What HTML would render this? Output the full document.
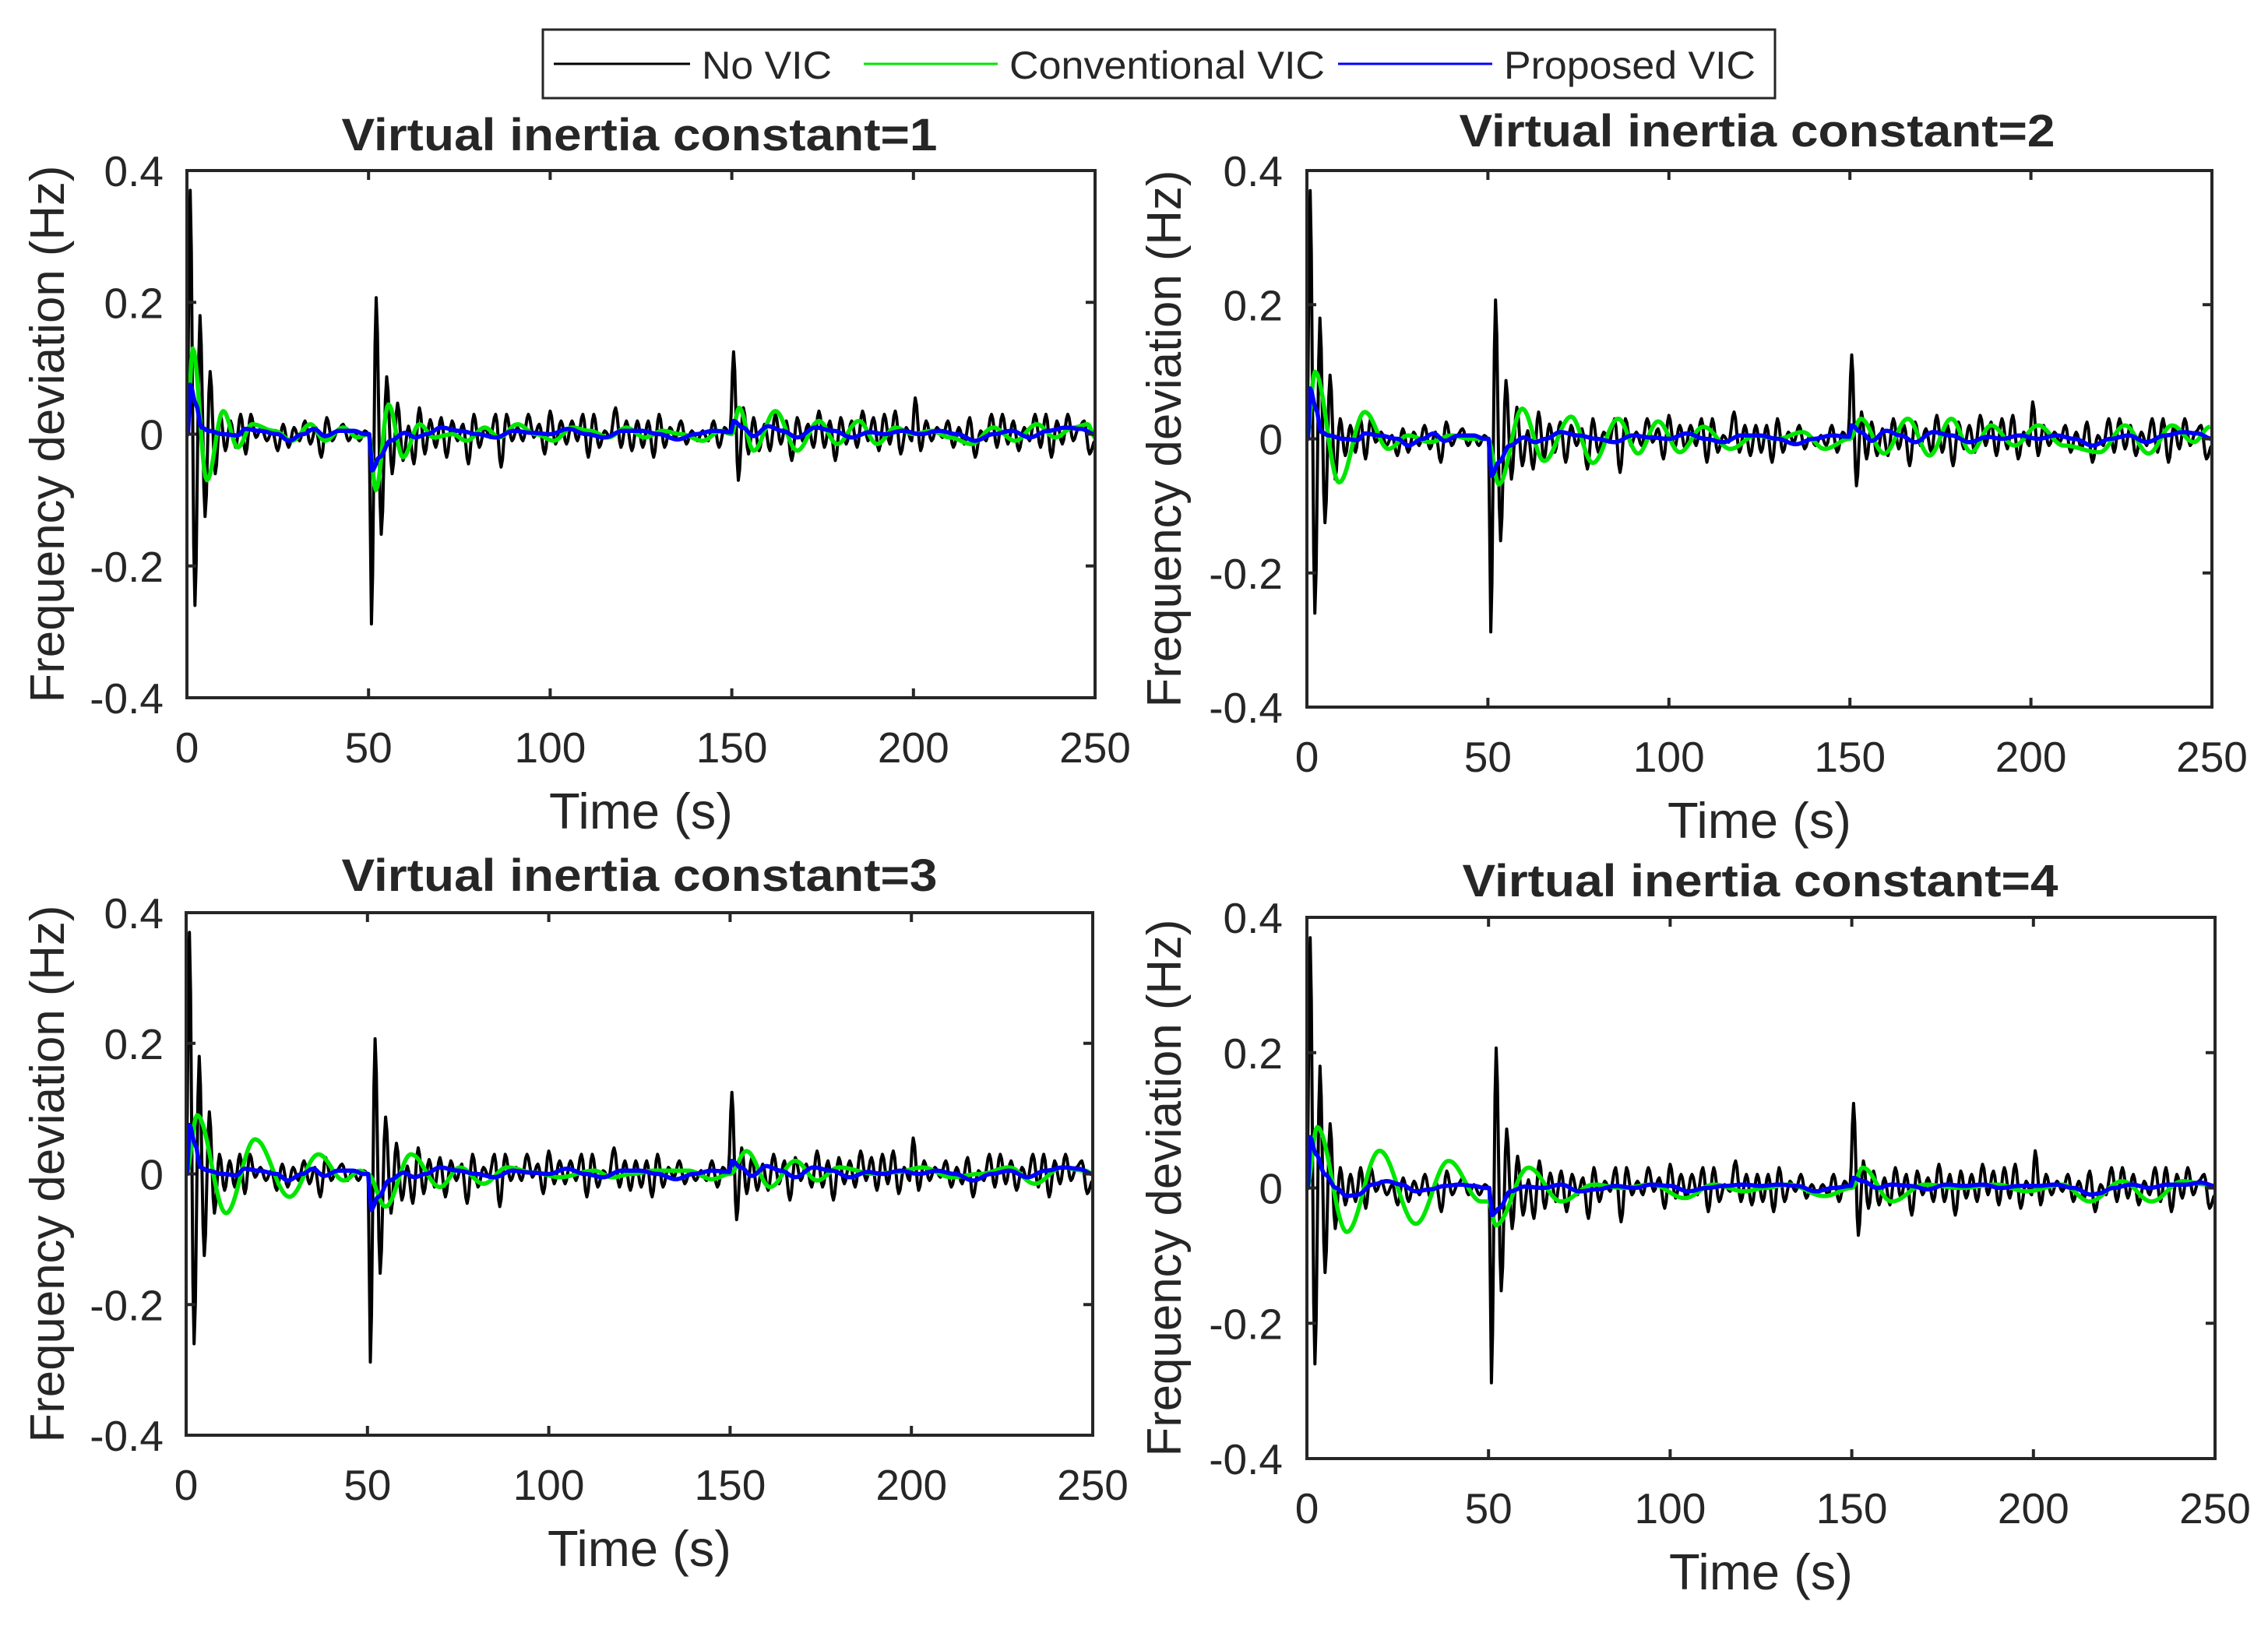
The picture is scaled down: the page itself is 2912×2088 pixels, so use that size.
<!DOCTYPE html>
<html><head><meta charset="utf-8"><style>
html,body{margin:0;padding:0;background:#fff}
svg{display:block}
text{font-family:"Liberation Sans",Arial,sans-serif;fill:#262626}
</style></head><body>
<svg id="fig" width="2912" height="2088" viewBox="0 0 2912 2088" xmlns="http://www.w3.org/2000/svg">
<g>
<rect x="697" y="38" width="1582" height="88" fill="#fff" stroke="#262626" stroke-width="3"/>
<line x1="711" y1="82" x2="886" y2="82" stroke="#000" stroke-width="3"/>
<text x="901" y="101" font-size="50" textLength="167" lengthAdjust="spacingAndGlyphs">No VIC</text>
<line x1="1109" y1="82" x2="1281" y2="82" stroke="#00e600" stroke-width="3"/>
<text x="1296" y="101" font-size="50" textLength="405" lengthAdjust="spacingAndGlyphs">Conventional VIC</text>
<line x1="1718" y1="82" x2="1916" y2="82" stroke="#0000ff" stroke-width="3"/>
<text x="1931" y="101" font-size="50" textLength="323" lengthAdjust="spacingAndGlyphs">Proposed VIC</text>
</g>
</svg>
<script>
const xTicks=[0,50,100,150,200,250];
const yTicks=[0.4,0.2,0,-0.2,-0.4];
const yTickLabels=["0.4","0.2","0","-0.2","-0.4"];
const panelTitles=["Virtual inertia constant=1","Virtual inertia constant=2","Virtual inertia constant=3","Virtual inertia constant=4"];

const blackT=[0,0.9,2.2,3.6,5.0,6.4,7.8,9.2,10.6,12.0,13.4,14.8,16.2,17.6,19,20.5,22,23.5,25,26.5,28,29.5,31,32.5,34,35.5,37,38.5,40,41.5,43,44.5,46,47.5,49,50.2,50.8,52.1,53.5,55,56.5,58,59.5,61,62.5,64,65.5,67,68.5,70,71.5,73,74.5,76,77.5,79,80.5,82,83.5,85,86.5,88,89.5,91,92.5,94,95.5,97,98.5,100,101.5,103,104.5,106,107.5,109,110.5,112,113.5,115,116.5,118,119.5,121,122.5,124,125.5,127,128.5,130,131.5,133,134.5,136,137.5,139,140.5,142,143.5,145,146.5,148,149.5,150.5,151.8,153.2,154.6,156,157.5,159,160.5,162,163.5,165,166.5,168,169.5,171,172.5,174,175.5,177,178.5,180,181.5,183,184.5,186,187.5,189,190.5,192,193.5,195,196.5,198,199.5,200.5,202,203.5,205,206.5,208,209.5,211,212.5,214,215.5,217,218.5,220,221.5,223,224.5,226,227.5,229,230.5,232,233.5,235,236.5,238,239.5,241,242.5,244,245.5,247,248.5,250];
const blackV=[0,0.37,-0.26,0.18,-0.125,0.095,-0.06,0.03,-0.025,0.02,-0.02,0.03,-0.03,0.03,-0.005,0.01,-0.01,0.005,-0.025,0.015,-0.02,0.01,-0.01,0.02,-0.015,0.01,-0.035,0.025,-0.01,0.005,0.015,-0.01,0.005,-0.01,0.005,0,-0.288,0.207,-0.152,0.087,-0.06,0.047,-0.04,0.012,-0.045,0.04,-0.03,0.022,-0.02,0.025,-0.035,0.02,-0.01,0.015,-0.045,0.03,-0.02,0.01,-0.005,0.03,-0.05,0.03,-0.01,0.01,-0.01,0.03,-0.005,0.015,-0.03,0.035,-0.015,0.02,-0.015,0.02,-0.01,0.03,-0.035,0.03,-0.02,0.005,-0.005,0.04,-0.02,0.02,-0.025,0.02,-0.02,0.02,-0.035,0.03,-0.02,0.01,-0.005,0.02,-0.015,0.005,-0.01,0.005,-0.01,0.02,-0.02,0.01,0,0.125,-0.07,0.04,-0.03,0.025,-0.025,0.015,-0.025,0.03,-0.015,0.02,-0.04,0.025,-0.01,0.015,-0.02,0.035,-0.02,0.02,-0.04,0.025,-0.015,0.02,-0.02,0.035,-0.01,0.025,-0.025,0.03,-0.015,0.035,-0.03,0.01,-0.01,0.055,-0.025,0.02,-0.01,0.01,-0.005,0.02,-0.02,0.01,-0.015,0.025,-0.035,0.005,-0.01,0.03,-0.02,0.03,-0.015,0.02,-0.025,0.01,-0.01,0.03,-0.02,0.03,-0.035,0.02,-0.015,0.03,-0.01,0.01,0.02,-0.03,-0.01];

const green1T=[0,1.6,5.5,10,14,18,24,29,34,38,43,47,50,52,55.5,59.5,64,68,73,77,82,86,91,96,101,106,111,116,121,126,131,136,142,147,150,152,156,162,168,174,179,185,190,195,200,205,210,216,222,228,234,239,244,248,250];
const green1V=[0,0.13,-0.07,0.035,-0.02,0.015,0.005,-0.01,0.015,-0.01,0.01,-0.005,0,-0.085,0.045,-0.035,0.015,-0.005,0,-0.01,0.01,-0.005,0.015,0,-0.01,0.01,0.005,-0.005,0.01,-0.005,0.005,0,-0.01,0.005,0,0.04,-0.025,0.035,-0.025,0.02,-0.015,0.02,-0.015,0.01,0,0.005,-0.005,-0.015,0.01,-0.01,0.015,-0.005,0.01,0.015,-0.005];
const green2T=[0,2.2,8.9,16,22.5,28,34,40,45,50,53,59.5,65.5,73,79,86,91.5,97,103,109.5,117,124,130,137,143,150,153,159.5,166,172,178,183.5,189,195.5,202,209,219,226,232.5,239,245,249.5];
const green2V=[0,0.1,-0.065,0.04,-0.015,0.005,-0.005,0.005,0,0,-0.068,0.045,-0.033,0.033,-0.036,0.03,-0.022,0.026,-0.02,0.018,-0.015,0.005,0,0.01,-0.015,0,0.03,-0.022,0.03,-0.025,0.03,-0.02,0.02,-0.01,0.02,-0.01,-0.02,0.02,-0.022,0.02,-0.005,0.018];
const green3T=[0,3,11,19,28.5,36.5,43.5,48,50,55,62,70,75.5,82,88.5,96,103,112.5,117.5,123,129,138.5,145,150,154.5,161,168,174,180,190,196,203,211,219,227,234,241.5,248,250];
const green3V=[0,0.09,-0.06,0.053,-0.035,0.03,-0.01,0.005,0,-0.05,0.03,-0.02,0.01,-0.015,0.01,0.002,-0.005,0.005,-0.005,0,0.005,0.005,-0.008,0,0.035,-0.02,0.02,-0.01,0.01,0,0.003,0.01,-0.005,0,0.01,-0.015,0.01,0.005,0];
const green4T=[0,2.8,11,20,30,39,48,50,52,61,70,79,87,95,104,112,120.5,126,132.5,142.5,150,153,161,170,180,190,198,208,215.5,224.5,232.5,241,248,250];
const green4V=[0,0.09,-0.065,0.055,-0.053,0.04,-0.02,-0.02,-0.055,0.03,-0.02,0.005,0,0.005,-0.015,0.005,-0.005,0,0.005,-0.012,0,0.03,-0.02,0.005,0,0.005,-0.005,0.005,-0.02,0.01,-0.02,0.01,0.005,0];

const blueT=[0,0.3,0.9,2.5,4,6,10,14,16,20,25,28,32,35,38,42,46,49,50.2,51,53,56,60,63,66,70,75,80,85,90,95,100,105,110,115,120,125,130,135,140,145,149.8,150.5,153,156,160,164,168,173,178,183,188,192,197,202,207,212,217,222,227,232,237,242,246,250];
const blueV=[0,0,0.075,0.045,0.01,0.005,0,-0.002,0.008,0.005,0,-0.01,0,0.008,-0.003,0.005,0.005,0,0,-0.055,-0.035,-0.01,0.002,-0.005,0,0.01,0.005,0,-0.005,0.005,0.002,0,0.008,0,-0.005,0.005,0.005,0,-0.008,0,0.005,0.003,0.02,0.01,-0.003,0.012,0.005,-0.005,0.01,0.005,-0.005,0.003,0,0.005,0,0.005,0,-0.01,0,0.005,-0.005,0.005,0.01,0.008,0];
const blue4T=[0,0.3,0.9,2.5,5,8,11,14,18,22,26,30,34,38,42,46,49,50.2,51,53,56,60,65,70,75,80,85,90,95,100,105,110,115,120,125,130,135,140,145,149.8,150.5,153,157,161,166,171,176,181,186,191,196,201,206,211,216,218,222,227,232,237,242,246,250];
const blue4V=[0,0,0.075,0.05,0.02,0.0,-0.012,-0.01,0.005,0.01,0.005,-0.005,-0.002,0.003,0.005,0.003,0,0,-0.04,-0.03,-0.005,0.002,0,0.005,-0.005,-0.002,0.003,0.0,0.005,0.003,-0.005,0.0,0.003,0.005,0.003,0.005,0.003,-0.005,0,0.003,0.015,0.01,0.0,0.005,0.003,-0.002,0.005,0.003,0.005,0.0,0.003,0.003,0.005,0.0,-0.01,-0.008,0.0,0.005,0.0,0.005,0.005,0.008,0.003];

const panels=[
 {x0:240,x1:1406,y0:219,y1:896,title:panelTitles[0],tcx:821,tby:193,ylx:82,tickR:210,gT:green1T,gV:green1V,bT:blueT,bV:blueV},
 {x0:1678,x1:2840,y0:219,y1:908,title:panelTitles[1],tcx:2256,tby:188,ylx:1516,tickR:1647,gT:green2T,gV:green2V,bT:blueT,bV:blueV},
 {x0:239,x1:1403,y0:1172,y1:1843,title:panelTitles[2],tcx:821,tby:1144,ylx:82,tickR:210,gT:green3T,gV:green3V,bT:blueT,bV:blueV},
 {x0:1678,x1:2844,y0:1178,y1:1873,title:panelTitles[3],tcx:2260,tby:1151,ylx:1516,tickR:1647,gT:green4T,gV:green4V,bT:blue4T,bV:blue4V}
];
const NS="http://www.w3.org/2000/svg";
const svg=document.getElementById('fig');
function mk(tag,attrs,parent){const e=document.createElementNS(NS,tag);for(const k in attrs)e.setAttribute(k,attrs[k]);parent.appendChild(e);return e;}
function buildPath(T,V,sx,sy){
 let d='';
 for(let i=0;i<T.length;i++){
  if(i===0){d+='M'+sx(T[0]).toFixed(1)+' '+sy(V[0]).toFixed(1);continue;}
  const t0=T[i-1],t1=T[i],v0=V[i-1],v1=V[i];
  const n=Math.max(2,Math.ceil((sx(t1)-sx(t0))/2));
  for(let k=1;k<=n;k++){const f=k/n;const w=(1-Math.cos(Math.PI*f))/2;d+='L'+sx(t0+(t1-t0)*f).toFixed(1)+' '+sy(v0+(v1-v0)*w).toFixed(1);}
 }
 return d;
}
panels.forEach((p,i)=>{
 const g=mk('g',{},svg);
 
 
 const sx=t=>p.x0+(t-0)/(250-0)*(p.x1-p.x0);
 const sy=v=>p.y1-(v+0.4)/0.8*(p.y1-p.y0);
 const clipId='clip'+i;
 const cp=mk('clipPath',{id:clipId},g);mk('rect',{x:p.x0,y:p.y0,width:p.x1-p.x0,height:p.y1-p.y0},cp);
 const lines=mk('g',{'clip-path':'url(#'+clipId+')'},g);
 const pb=mk('path',{d:buildPath(blackT,blackV,sx,sy),fill:'none',stroke:'#000','stroke-width':4,'stroke-linejoin':'round'},lines);
 
 
 const pg=mk('path',{d:buildPath(p.gT,p.gV,sx,sy),fill:'none',stroke:'#00e600','stroke-width':5.5,'stroke-linejoin':'round'},lines);
 
 
 const pbl=mk('path',{d:buildPath(p.bT,p.bV,sx,sy),fill:'none',stroke:'#0000ff','stroke-width':5.5,'stroke-linejoin':'round'},lines);
 
 
 const box=mk('rect',{x:p.x0,y:p.y0,width:p.x1-p.x0,height:p.y1-p.y0,fill:'none',stroke:'#262626','stroke-width':4},g);
 
 
 xTicks.forEach(t=>{
  const x=sx(t);
  mk('line',{x1:x,y1:p.y1,x2:x,y2:p.y1-12,stroke:'#262626','stroke-width':4},g);
  mk('line',{x1:x,y1:p.y0,x2:x,y2:p.y0+12,stroke:'#262626','stroke-width':4},g);
  const tx=mk('text',{x:x,y:p.y1+83,'font-size':55,'text-anchor':'middle'},g);
  tx.textContent=String(t);
  
  
 });
 yTicks.forEach((v,j)=>{
  const y=sy(v);
  mk('line',{x1:p.x0,y1:y,x2:p.x0+12,y2:y,stroke:'#262626','stroke-width':4},g);
  mk('line',{x1:p.x1,y1:y,x2:p.x1-12,y2:y,stroke:'#262626','stroke-width':4},g);
  const ty=mk('text',{x:p.tickR,y:y+20,'font-size':55,'text-anchor':'end'},g);
  ty.textContent=yTickLabels[j];
  
  
 });
 const tt=mk('text',{x:p.tcx,y:p.tby,'font-size':58,'font-weight':'bold','text-anchor':'middle',textLength:765,lengthAdjust:'spacingAndGlyphs',fill:'#000'},g);
 tt.textContent=p.title;
 
 
 const cy=(p.y0+p.y1)/2;
 const yl=mk('text',{x:p.ylx,y:cy,'font-size':62,'text-anchor':'middle',transform:'rotate(-90 '+p.ylx+' '+cy+')',textLength:690,lengthAdjust:'spacingAndGlyphs'},g);
 yl.textContent='Frequency deviation (Hz)';
 
 
 const xl=mk('text',{x:(p.x0+p.x1)/2,y:p.y1+168,'font-size':65,'text-anchor':'middle'},g);
 xl.textContent='Time (s)';
 
 
});
</script>
</body></html>
